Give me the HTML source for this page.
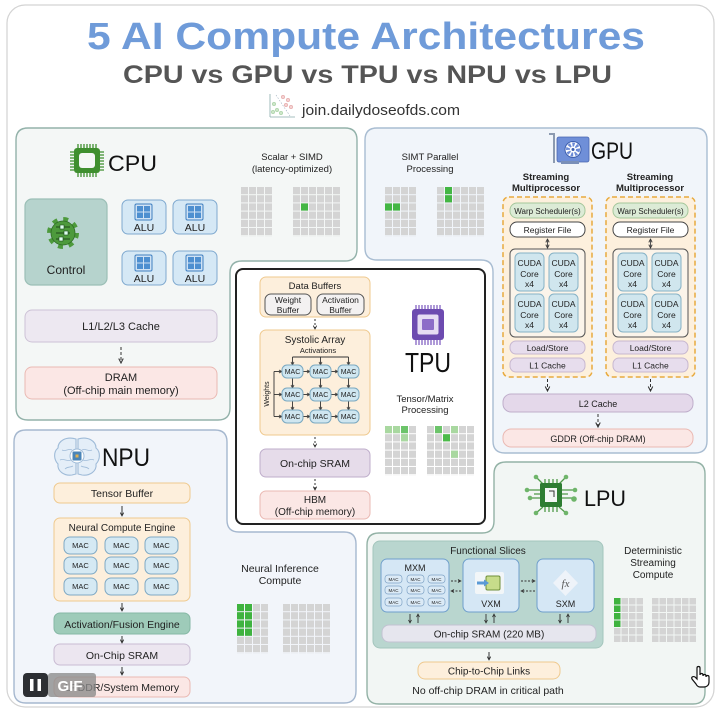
<!DOCTYPE html>
<html><head><meta charset="utf-8"><style>
html,body{margin:0;padding:0;background:#fff;}
svg{display:block;font-family:"Liberation Sans",Arial,sans-serif;}
text{fill:#222;}
</style></head><body>
<svg width="725" height="710" viewBox="0 0 725 710" xmlns="http://www.w3.org/2000/svg">
<defs>
<marker id="ar" viewBox="0 0 8 8" refX="7" refY="4" markerWidth="6" markerHeight="6" orient="auto-start-reverse"><path d="M1,1 L7,4 L1,7" fill="none" stroke="#333" stroke-width="1.4"/></marker>
<marker id="as" viewBox="0 0 8 8" refX="7" refY="4" markerWidth="4.5" markerHeight="4.5" orient="auto-start-reverse"><path d="M1,1 L7,4 L1,7" fill="none" stroke="#333" stroke-width="1.5"/></marker>
<pattern id="g" width="8" height="8.2" patternUnits="userSpaceOnUse"><rect width="7" height="7.2" fill="#d4d4d4"/></pattern>
<pattern id="g2" width="7.5" height="7.5" patternUnits="userSpaceOnUse"><rect width="6.5" height="6.5" fill="#d4d4d4"/></pattern>
</defs>

<!-- outer frame -->
<rect x="7" y="5" width="707" height="702" rx="18" fill="#fff" stroke="#d3d3d3" stroke-width="1.2"/>

<!-- header -->
<text x="366" y="49" font-size="38" font-weight="bold" text-anchor="middle" textLength="558" lengthAdjust="spacingAndGlyphs" style="fill:#6f9bd9">5 AI Compute Architectures</text>
<text x="367.5" y="83" font-size="25" font-weight="bold" text-anchor="middle" textLength="489" lengthAdjust="spacingAndGlyphs" style="fill:#555">CPU vs GPU vs TPU vs NPU vs LPU</text>
<g>
<line x1="270" y1="94" x2="270" y2="117" stroke="#8aa" stroke-width="0.8"/>
<line x1="270" y1="117" x2="295" y2="117" stroke="#8aa" stroke-width="0.8"/>
<line x1="276" y1="95" x2="290" y2="116" stroke="#9ab" stroke-width="0.6" stroke-dasharray="1.5 1.5"/>
<circle cx="274" cy="104" r="1.8" fill="#cde5c8" stroke="#9c9" stroke-width="0.5"/>
<circle cx="277" cy="110" r="1.8" fill="#cde5c8" stroke="#9c9" stroke-width="0.5"/>
<circle cx="281" cy="113" r="1.8" fill="#cde5c8" stroke="#9c9" stroke-width="0.5"/>
<circle cx="273" cy="112" r="1.8" fill="#cde5c8" stroke="#9c9" stroke-width="0.5"/>
<circle cx="283" cy="97" r="1.8" fill="#f5d0d0" stroke="#d99" stroke-width="0.5"/>
<circle cx="288" cy="100" r="1.8" fill="#f5d0d0" stroke="#d99" stroke-width="0.5"/>
<circle cx="286" cy="105" r="1.8" fill="#f5d0d0" stroke="#d99" stroke-width="0.5"/>
<circle cx="291" cy="107" r="1.8" fill="#f5d0d0" stroke="#d99" stroke-width="0.5"/>
</g>
<text x="302" y="115" font-size="14.5" textLength="158" lengthAdjust="spacingAndGlyphs" style="fill:#333">join.dailydoseofds.com</text>

<!-- panels -->
<path d="M28,128 H345 Q357,128 357,140 V249 Q357,261 345,261 H242 Q230,261 230,273 V408 Q230,420 218,420 H28 Q16,420 16,408 V140 Q16,128 28,128 Z" fill="#f4f7f6" stroke="#93b2aa" stroke-width="1.4"/>
<path d="M377,128 H695 Q707,128 707,140 V441 Q707,453 695,453 H505 Q493,453 493,441 V272 Q493,260 481,260 H377 Q365,260 365,248 V140 Q365,128 377,128 Z" fill="#f1f5fa" stroke="#a9bdd2" stroke-width="1.4"/>
<path d="M26,430 H215 Q227,430 227,442 V520 Q227,532 239,532 H344 Q356,532 356,544 V691 Q356,703 344,703 H26 Q14,703 14,691 V442 Q14,430 26,430 Z" fill="#f2f5fa" stroke="#a6b8cf" stroke-width="1.4"/>
<path d="M506,462 H693 Q705,462 705,474 V692 Q705,704 693,704 H379 Q367,704 367,692 V545 Q367,533 379,533 H482 Q494,533 494,521 V474 Q494,462 506,462 Z" fill="#f2f6f4" stroke="#93b2a6" stroke-width="1.4"/>
<rect x="236" y="269" width="249" height="255" rx="7" fill="#fff" stroke="#222" stroke-width="2"/>

<!-- ================= CPU ================= -->
<g stroke="#3f8f2f" stroke-width="1.3">
<path d="M78,144 V148 M81,144 V148 M84,144 V148 M87,144 V148 M90,144 V148 M93,144 V148 M96,144 V148"/>
<path d="M78,173 V177 M81,173 V177 M84,173 V177 M87,173 V177 M90,173 V177 M93,173 V177 M96,173 V177"/>
<path d="M70,152 H74 M70,155 H74 M70,158 H74 M70,161 H74 M70,164 H74 M70,167 H74 M70,170 H74"/>
<path d="M100,152 H104 M100,155 H104 M100,158 H104 M100,161 H104 M100,164 H104 M100,167 H104 M100,170 H104"/>
</g>
<rect x="74" y="148" width="26" height="25" rx="3" fill="#3f8f2f"/>
<rect x="79" y="153" width="16" height="15" rx="3" fill="#f4f7f6"/>
<text x="108" y="171" font-size="22" textLength="49" lengthAdjust="spacingAndGlyphs" style="fill:#111">CPU</text>

<text x="292" y="160" font-size="9.5" text-anchor="middle">Scalar + SIMD</text>
<text x="292" y="172" font-size="9.5" text-anchor="middle">(latency-optimized)</text>
<g transform="translate(241,187)"><rect width="32" height="49.2" fill="url(#g)"/></g>
<g transform="translate(293,187)"><rect width="48" height="49.2" fill="url(#g)"/><rect x="8" y="16.4" width="7" height="7.2" fill="#43b643"/></g>

<rect x="25" y="199" width="82" height="86" rx="7" fill="#b6d3cd" stroke="#9bbfb6" stroke-width="1.2"/>
<circle cx="63" cy="233" r="13.5" fill="none" stroke="#4d9a3c" stroke-width="5" stroke-dasharray="4.8 5.8"/>
<circle cx="63" cy="233" r="12" fill="#4d9a3c" stroke="#2e6b25" stroke-width="0.8"/>
<g stroke="#1f4a1a" stroke-width="1"><line x1="56" y1="227" x2="70" y2="227"/><line x1="56" y1="233" x2="70" y2="233"/><line x1="56" y1="239" x2="70" y2="239"/></g>
<rect x="60" y="225" width="4" height="4" fill="#dfe" stroke="#1f4a1a" stroke-width="0.6"/>
<rect x="64" y="231" width="4" height="4" fill="#dfe" stroke="#1f4a1a" stroke-width="0.6"/>
<rect x="59" y="237" width="4" height="4" fill="#dfe" stroke="#1f4a1a" stroke-width="0.6"/>
<text x="66" y="274" font-size="12" text-anchor="middle">Control</text>

<g id="alu">
<rect x="122" y="200" width="44" height="34" rx="6" fill="#d5e8f5" stroke="#7fa9cf" stroke-width="1"/>
<rect x="135" y="204" width="17" height="16" rx="1.5" fill="#cfe2f4" stroke="#3f7fc0" stroke-width="1"/>
<rect x="137" y="206" width="6" height="5.5" fill="#4d8fd0"/><rect x="144" y="206" width="6" height="5.5" fill="#4d8fd0"/>
<rect x="137" y="212.5" width="6" height="5.5" fill="#4d8fd0"/><rect x="144" y="212.5" width="6" height="5.5" fill="#4d8fd0"/>
<text x="144" y="231" font-size="10.5" text-anchor="middle">ALU</text>
</g>
<use href="#alu" x="51" y="0"/>
<use href="#alu" x="0" y="51"/>
<use href="#alu" x="51" y="51"/>

<rect x="25" y="310" width="192" height="32" rx="7" fill="#ede8f1" stroke="#cdc2d6" stroke-width="1"/>
<text x="121" y="330" font-size="11" text-anchor="middle">L1/L2/L3 Cache</text>
<line x1="121" y1="347" x2="121" y2="363" stroke="#333" stroke-width="1" stroke-dasharray="3 2" marker-end="url(#ar)"/>
<rect x="25" y="367" width="192" height="32" rx="7" fill="#fbe7e5" stroke="#eab9b3" stroke-width="1"/>
<text x="121" y="381" font-size="11" text-anchor="middle">DRAM</text>
<text x="121" y="394" font-size="11" text-anchor="middle">(Off-chip main memory)</text>

<!-- ================= GPU ================= -->
<text x="430" y="160" font-size="9.5" text-anchor="middle">SIMT Parallel</text>
<text x="430" y="172" font-size="9.5" text-anchor="middle">Processing</text>
<g transform="translate(385,187)"><rect width="32" height="49.2" fill="url(#g)"/><rect x="0" y="16.4" width="7" height="7.2" fill="#43b643"/><rect x="8" y="16.4" width="7" height="7.2" fill="#43b643"/></g>
<g transform="translate(437,187)"><rect width="48" height="49.2" fill="url(#g)"/><rect x="8" y="0" width="7" height="7.2" fill="#43b643"/><rect x="8" y="8.2" width="7" height="7.2" fill="#43b643"/></g>

<path d="M549,134 H554 V163" fill="none" stroke="#8c9ab0" stroke-width="2"/>
<rect x="557" y="137" width="32" height="25" rx="2" fill="#6f8fd8" stroke="#4a66b0" stroke-width="0.8"/>
<rect x="561" y="161" width="18" height="3" fill="#7a8fb8"/>
<circle cx="573" cy="149.5" r="8" fill="#fff" stroke="#3d5fae" stroke-width="1"/>
<circle cx="573" cy="149.5" r="5" fill="none" stroke="#6b8ad6" stroke-width="4" stroke-dasharray="2.2 1.6"/>
<circle cx="573" cy="149.5" r="1.5" fill="#3d5fae"/>
<text x="591" y="159" font-size="24" textLength="42" lengthAdjust="spacingAndGlyphs" style="fill:#111">GPU</text>

<text x="546" y="180" font-size="9.5" text-anchor="middle" font-weight="bold">Streaming</text>
<text x="546" y="191" font-size="9.5" text-anchor="middle" font-weight="bold">Multiprocessor</text>
<text x="650" y="180" font-size="9.5" text-anchor="middle" font-weight="bold">Streaming</text>
<text x="650" y="191" font-size="9.5" text-anchor="middle" font-weight="bold">Multiprocessor</text>

<g id="sm">
<rect x="503" y="197" width="89" height="180" rx="6" fill="#fdf0dd" stroke="#e8aa3e" stroke-width="1.5" stroke-dasharray="5 3"/>
<rect x="510" y="203" width="75" height="15" rx="7" fill="#dcebd6" stroke="#a5c79b" stroke-width="1"/>
<text x="547.5" y="214" font-size="8" text-anchor="middle">Warp Scheduler(s)</text>
<rect x="510" y="222" width="75" height="15" rx="7" fill="#fff" stroke="#444" stroke-width="1"/>
<text x="547.5" y="233" font-size="8.5" text-anchor="middle">Register File</text>
<line x1="547.5" y1="239" x2="547.5" y2="248" stroke="#555" stroke-width="1" marker-end="url(#as)" marker-start="url(#as)"/>
<rect x="510" y="249" width="75" height="88" rx="5" fill="#fbf4ea" stroke="#555" stroke-width="1"/>
<rect x="515" y="253" width="29" height="38" rx="5" fill="#d0e6ee" stroke="#86b2c6" stroke-width="1"/>
<rect x="549" y="253" width="29" height="38" rx="5" fill="#d0e6ee" stroke="#86b2c6" stroke-width="1"/>
<rect x="515" y="294" width="29" height="38" rx="5" fill="#d0e6ee" stroke="#86b2c6" stroke-width="1"/>
<rect x="549" y="294" width="29" height="38" rx="5" fill="#d0e6ee" stroke="#86b2c6" stroke-width="1"/>
<g font-size="8.5" text-anchor="middle">
<text x="529.5" y="266">CUDA</text><text x="529.5" y="277">Core</text><text x="529.5" y="287">x4</text>
<text x="563.5" y="266">CUDA</text><text x="563.5" y="277">Core</text><text x="563.5" y="287">x4</text>
<text x="529.5" y="307">CUDA</text><text x="529.5" y="318">Core</text><text x="529.5" y="328">x4</text>
<text x="563.5" y="307">CUDA</text><text x="563.5" y="318">Core</text><text x="563.5" y="328">x4</text>
</g>
<rect x="510" y="341" width="75" height="13" rx="6" fill="#e7dded" stroke="#c7b7d0" stroke-width="1"/>
<text x="547.5" y="351" font-size="8.5" text-anchor="middle">Load/Store</text>
<rect x="510" y="358" width="75" height="14" rx="6" fill="#e7dded" stroke="#c7b7d0" stroke-width="1"/>
<text x="547.5" y="368.5" font-size="8.5" text-anchor="middle">L1 Cache</text>
<line x1="547.5" y1="379" x2="547.5" y2="391" stroke="#333" stroke-width="1" stroke-dasharray="3 2" marker-end="url(#ar)"/>
</g>
<use href="#sm" x="103" y="0"/>
<rect x="503" y="394" width="190" height="18" rx="8" fill="#e4d8ea" stroke="#bfaecb" stroke-width="1"/>
<text x="598" y="407" font-size="9" text-anchor="middle">L2 Cache</text>
<line x1="598" y1="414" x2="598" y2="427" stroke="#333" stroke-width="1" stroke-dasharray="3 2" marker-end="url(#ar)"/>
<rect x="503" y="429" width="190" height="18" rx="8" fill="#fbe7e5" stroke="#eab9b3" stroke-width="1"/>
<text x="598" y="442" font-size="9" text-anchor="middle">GDDR (Off-chip DRAM)</text>

<!-- ================= TPU ================= -->
<rect x="260" y="277" width="110" height="40" rx="6" fill="#fdefdc" stroke="#efc98e" stroke-width="1"/>
<text x="315" y="289" font-size="9.5" text-anchor="middle">Data Buffers</text>
<rect x="265" y="294" width="46" height="21" rx="6" fill="#f3f1f1" stroke="#555" stroke-width="1"/>
<rect x="317" y="294" width="47" height="21" rx="6" fill="#f3f1f1" stroke="#555" stroke-width="1"/>
<g font-size="8.5" text-anchor="middle"><text x="288" y="303">Weight</text><text x="288" y="313">Buffer</text><text x="340.5" y="303">Activation</text><text x="340.5" y="313">Buffer</text></g>
<line x1="315" y1="319" x2="315" y2="329" stroke="#333" stroke-width="1" stroke-dasharray="2 2" marker-end="url(#as)"/>
<rect x="260" y="330" width="110" height="105" rx="6" fill="#fdefdc" stroke="#efc98e" stroke-width="1"/>
<text x="315" y="343" font-size="10" text-anchor="middle">Systolic Array</text>
<text x="318" y="353" font-size="7.5" text-anchor="middle">Activations</text>
<g stroke="#333" stroke-width="0.9" fill="none">
<path d="M292.5,357 H348.5"/>
<line x1="292.5" y1="357" x2="292.5" y2="365" marker-end="url(#as)"/>
<line x1="320.5" y1="357" x2="320.5" y2="365" marker-end="url(#as)"/>
<line x1="348.5" y1="357" x2="348.5" y2="365" marker-end="url(#as)"/>
<path d="M274,371.5 V416.5"/>
<line x1="274" y1="371.5" x2="282" y2="371.5" marker-end="url(#as)"/>
<line x1="274" y1="394.5" x2="282" y2="394.5" marker-end="url(#as)"/>
<line x1="274" y1="416.5" x2="282" y2="416.5" marker-end="url(#as)"/>
<line x1="303" y1="371.5" x2="310" y2="371.5" marker-end="url(#as)"/><line x1="331" y1="371.5" x2="338" y2="371.5" marker-end="url(#as)"/>
<line x1="303" y1="394.5" x2="310" y2="394.5" marker-end="url(#as)"/><line x1="331" y1="394.5" x2="338" y2="394.5" marker-end="url(#as)"/>
<line x1="303" y1="416.5" x2="310" y2="416.5" marker-end="url(#as)"/><line x1="331" y1="416.5" x2="338" y2="416.5" marker-end="url(#as)"/>
<line x1="292.5" y1="378" x2="292.5" y2="388" marker-end="url(#as)"/><line x1="320.5" y1="378" x2="320.5" y2="388" marker-end="url(#as)"/><line x1="348.5" y1="378" x2="348.5" y2="388" marker-end="url(#as)"/>
<line x1="292.5" y1="401" x2="292.5" y2="410" marker-end="url(#as)"/><line x1="320.5" y1="401" x2="320.5" y2="410" marker-end="url(#as)"/><line x1="348.5" y1="401" x2="348.5" y2="410" marker-end="url(#as)"/>
</g>
<g fill="#cfe6f0" stroke="#7aa8c0" stroke-width="1">
<rect x="282" y="365" width="21" height="13" rx="5"/><rect x="310" y="365" width="21" height="13" rx="5"/><rect x="338" y="365" width="21" height="13" rx="5"/>
<rect x="282" y="388" width="21" height="13" rx="5"/><rect x="310" y="388" width="21" height="13" rx="5"/><rect x="338" y="388" width="21" height="13" rx="5"/>
<rect x="282" y="410" width="21" height="13" rx="5"/><rect x="310" y="410" width="21" height="13" rx="5"/><rect x="338" y="410" width="21" height="13" rx="5"/>
</g>
<g font-size="7" text-anchor="middle">
<text x="292.5" y="374">MAC</text><text x="320.5" y="374">MAC</text><text x="348.5" y="374">MAC</text>
<text x="292.5" y="397">MAC</text><text x="320.5" y="397">MAC</text><text x="348.5" y="397">MAC</text>
<text x="292.5" y="419">MAC</text><text x="320.5" y="419">MAC</text><text x="348.5" y="419">MAC</text>
</g>
<text x="0" y="0" font-size="7" text-anchor="middle" transform="translate(269,394) rotate(-90)">Weights</text>
<line x1="315" y1="437" x2="315" y2="447" stroke="#333" stroke-width="1" stroke-dasharray="2 2" marker-end="url(#as)"/>
<rect x="260" y="449" width="110" height="28" rx="6" fill="#e6dcea" stroke="#bfaecb" stroke-width="1"/>
<text x="315" y="467" font-size="10.5" text-anchor="middle">On-chip SRAM</text>
<line x1="315" y1="479" x2="315" y2="490" stroke="#333" stroke-width="1" stroke-dasharray="2 2" marker-end="url(#as)"/>
<rect x="260" y="491" width="110" height="28" rx="6" fill="#fbe7e5" stroke="#eab9b3" stroke-width="1"/>
<text x="315" y="503" font-size="10" text-anchor="middle">HBM</text>
<text x="315" y="515" font-size="10" text-anchor="middle">(Off-chip memory)</text>

<g stroke="#7a58bf" stroke-width="1.2">
<path d="M416,305 V309 M419,305 V309 M422,305 V309 M425,305 V309 M428,305 V309 M431,305 V309 M434,305 V309 M437,305 V309 M440,305 V309"/>
<path d="M416,340 V345 M419,340 V345 M422,340 V345 M425,340 V345 M428,340 V345 M431,340 V345 M434,340 V345 M437,340 V345 M440,340 V345"/>
</g>
<rect x="412" y="309" width="32" height="31" rx="3" fill="#6d4bb0"/>
<rect x="417.5" y="314.5" width="21" height="20" rx="2" fill="#e6dcf3"/>
<rect x="422" y="319" width="12" height="11" rx="1" fill="#8d6cc8"/>
<text x="428" y="372" font-size="28" text-anchor="middle" textLength="46" lengthAdjust="spacingAndGlyphs" style="fill:#111">TPU</text>
<text x="425" y="402" font-size="9.5" text-anchor="middle">Tensor/Matrix</text>
<text x="425" y="413" font-size="9.5" text-anchor="middle">Processing</text>
<g transform="translate(385,426)"><rect width="32" height="49.2" fill="url(#g)"/><rect x="0" y="0" width="7" height="7.2" fill="#a9d8a0"/><rect x="8" y="0" width="7" height="7.2" fill="#a9d8a0"/><rect x="16" y="0" width="7" height="7.2" fill="#6cc46a"/><rect x="16" y="8.2" width="7" height="7.2" fill="#a9d8a0"/></g>
<g transform="translate(427,426)"><rect width="48" height="49.2" fill="url(#g)"/><rect x="8" y="0" width="7" height="7.2" fill="#6cc46a"/><rect x="24" y="0" width="7" height="7.2" fill="#a9d8a0"/><rect x="16" y="8.2" width="7" height="7.2" fill="#4cbb4a"/><rect x="24" y="24.6" width="7" height="7.2" fill="#a9d8a0"/></g>

<!-- ================= NPU ================= -->
<g fill="#e4eef8" stroke="#9fbbd8" stroke-width="1.1">
<path d="M76,439 C66,436 58,441 58,448 C53,452 54,460 58,464 C57,471 64,476 72,475 L76,474 Z"/>
<path d="M78,439 C88,436 96,441 96,448 C101,452 100,460 96,464 C97,471 90,476 82,475 L78,474 Z"/>
</g>
<g fill="none" stroke="#9fbbd8" stroke-width="0.8">
<path d="M62,450 C66,452 68,448 72,450 M60,460 C64,458 67,462 71,460 M65,469 C68,466 70,468 73,466 M92,450 C88,452 86,448 82,450 M94,460 C90,458 87,462 83,460 M89,469 C86,466 84,468 81,466"/>
</g>
<circle cx="77" cy="456" r="7" fill="#fff" stroke="#9fbbd8" stroke-width="1"/>
<rect x="72.5" y="451.5" width="9" height="9" rx="1" fill="#4a85b8"/>
<rect x="75.5" y="454.5" width="3" height="3" fill="#e0b050"/>
<text x="102" y="466" font-size="25" textLength="48" lengthAdjust="spacingAndGlyphs" style="fill:#111">NPU</text>

<rect x="54" y="483" width="136" height="20" rx="6" fill="#fdefdc" stroke="#efc98e" stroke-width="1"/>
<text x="122" y="497" font-size="10.5" text-anchor="middle">Tensor Buffer</text>
<line x1="122" y1="506" x2="122" y2="516" stroke="#333" stroke-width="1" marker-end="url(#as)"/>
<rect x="54" y="518" width="136" height="83" rx="6" fill="#fdefdc" stroke="#efc98e" stroke-width="1"/>
<text x="122" y="531" font-size="10" text-anchor="middle">Neural Compute Engine</text>
<g fill="#d5e9f3" stroke="#7fa9c4" stroke-width="1">
<rect x="64" y="537" width="33" height="17" rx="6"/><rect x="105" y="537" width="33" height="17" rx="6"/><rect x="145" y="537" width="33" height="17" rx="6"/>
<rect x="64" y="557" width="33" height="17" rx="6"/><rect x="105" y="557" width="33" height="17" rx="6"/><rect x="145" y="557" width="33" height="17" rx="6"/>
<rect x="64" y="578" width="33" height="17" rx="6"/><rect x="105" y="578" width="33" height="17" rx="6"/><rect x="145" y="578" width="33" height="17" rx="6"/>
</g>
<g font-size="7.5" text-anchor="middle">
<text x="80.5" y="548">MAC</text><text x="121.5" y="548">MAC</text><text x="161.5" y="548">MAC</text>
<text x="80.5" y="568">MAC</text><text x="121.5" y="568">MAC</text><text x="161.5" y="568">MAC</text>
<text x="80.5" y="589">MAC</text><text x="121.5" y="589">MAC</text><text x="161.5" y="589">MAC</text>
</g>
<line x1="122" y1="603" x2="122" y2="611" stroke="#333" stroke-width="1" marker-end="url(#as)"/>
<rect x="54" y="613" width="136" height="21" rx="6" fill="#9ecbb9" stroke="#86b8a5" stroke-width="1"/>
<text x="122" y="628" font-size="10.5" text-anchor="middle">Activation/Fusion Engine</text>
<line x1="122" y1="636" x2="122" y2="643" stroke="#333" stroke-width="1" marker-end="url(#as)"/>
<rect x="54" y="644" width="136" height="21" rx="6" fill="#ece6f0" stroke="#c9bcd3" stroke-width="1"/>
<text x="122" y="659" font-size="10.5" text-anchor="middle">On-Chip SRAM</text>
<line x1="122" y1="667" x2="122" y2="675" stroke="#333" stroke-width="1" marker-end="url(#as)"/>
<rect x="54" y="677" width="136" height="20" rx="6" fill="#fbe7e5" stroke="#eab9b3" stroke-width="1"/>
<text x="122" y="691" font-size="10.5" text-anchor="middle">LPDDR/System Memory</text>

<text x="280" y="572" font-size="10.5" text-anchor="middle">Neural Inference</text>
<text x="280" y="584" font-size="10.5" text-anchor="middle">Compute</text>
<g transform="translate(237,604)"><rect width="32" height="49.2" fill="url(#g)"/>
<rect x="0" y="0" width="7" height="7.2" fill="#3fb33f"/><rect x="8" y="0" width="7" height="7.2" fill="#3fb33f"/>
<rect x="0" y="8.2" width="7" height="7.2" fill="#3fb33f"/><rect x="8" y="8.2" width="7" height="7.2" fill="#3fb33f"/>
<rect x="0" y="16.4" width="7" height="7.2" fill="#3fb33f"/><rect x="8" y="16.4" width="7" height="7.2" fill="#3fb33f"/>
<rect x="0" y="24.6" width="7" height="7.2" fill="#3fb33f"/><rect x="8" y="24.6" width="7" height="7.2" fill="#3fb33f"/></g>
<g transform="translate(283,604)"><rect width="48" height="49.2" fill="url(#g)"/></g>

<!-- GIF overlay -->
<rect x="23" y="673" width="25" height="24" rx="4" fill="#2d2f33"/>
<rect x="30" y="679" width="3.5" height="12" fill="#fff"/><rect x="37.5" y="679" width="3.5" height="12" fill="#fff"/>
<rect x="48" y="673" width="48" height="24" rx="3" fill="#8a8a8a" fill-opacity="0.78"/>
<text x="70" y="691" font-size="15" font-weight="bold" text-anchor="middle" style="fill:#fff">GIF</text>

<!-- ================= LPU ================= -->
<g stroke="#4f9a48" stroke-width="1.3" fill="none">
<path d="M545,479 V484 M549,479 V484 M553,479 V484 M557,479 V484"/>
<path d="M545,507 V512 M549,507 V512 M553,507 V512 M557,507 V512"/>
<path d="M540,490 H527 M540,498 H530 M540,494 H534"/>
<path d="M562,490 H575 M562,498 H572 M562,494 H568"/>
<path d="M543,484 L536,477 M559,484 L566,477 M543,507 L536,513 M559,507 L566,513"/>
</g>
<g fill="#6fb56a"><circle cx="536" cy="477" r="2.3"/><circle cx="566" cy="477" r="2.3"/><circle cx="536" cy="513" r="2.3"/><circle cx="566" cy="513" r="2.3"/><circle cx="527" cy="490" r="2.3"/><circle cx="575" cy="490" r="2.3"/><circle cx="530" cy="498" r="2.3"/><circle cx="574" cy="499" r="2.8"/></g>
<rect x="540" y="483" width="22" height="24" rx="1.5" fill="#2e7d32"/>
<rect x="545" y="488" width="12" height="14" fill="#f4f7f5"/>
<path d="M549,491 H554 V497" fill="none" stroke="#333" stroke-width="1"/>
<text x="584" y="506" font-size="22" textLength="42" lengthAdjust="spacingAndGlyphs" style="fill:#111">LPU</text>

<rect x="373" y="541" width="230" height="107" rx="7" fill="#b9d6cf" stroke="#a3c5bc" stroke-width="1"/>
<text x="488" y="554" font-size="10" text-anchor="middle">Functional Slices</text>
<rect x="381" y="559" width="68" height="53" rx="6" fill="#d5e7f5" stroke="#6f9fcc" stroke-width="1"/>
<text x="415" y="571" font-size="9" text-anchor="middle">MXM</text>
<g fill="#dbeaf6" stroke="#7fa3c6" stroke-width="0.7">
<rect x="385" y="575" width="17" height="8" rx="3"/><rect x="407" y="575" width="17" height="8" rx="3"/><rect x="428" y="575" width="17" height="8" rx="3"/>
<rect x="385" y="586" width="17" height="8" rx="3"/><rect x="407" y="586" width="17" height="8" rx="3"/><rect x="428" y="586" width="17" height="8" rx="3"/>
<rect x="385" y="598" width="17" height="8" rx="3"/><rect x="407" y="598" width="17" height="8" rx="3"/><rect x="428" y="598" width="17" height="8" rx="3"/>
</g>
<g font-size="4.5" text-anchor="middle">
<text x="393.5" y="581">MAC</text><text x="415.5" y="581">MAC</text><text x="436.5" y="581">MAC</text>
<text x="393.5" y="592">MAC</text><text x="415.5" y="592">MAC</text><text x="436.5" y="592">MAC</text>
<text x="393.5" y="604">MAC</text><text x="415.5" y="604">MAC</text><text x="436.5" y="604">MAC</text>
</g>
<rect x="463" y="559" width="56" height="53" rx="6" fill="#d5e7f5" stroke="#6f9fcc" stroke-width="1"/>
<rect x="475" y="572" width="29" height="22" rx="2" fill="#f2f6f8"/>
<rect x="486" y="576" width="14" height="14" rx="1.5" fill="#c7dc8a" stroke="#6f8f3a" stroke-width="1"/>
<path d="M477,583 H485" stroke="#5a9ad6" stroke-width="3"/>
<path d="M484,579.5 L489,583 L484,586.5 Z" fill="#5a9ad6"/>
<text x="491" y="607" font-size="9" text-anchor="middle">VXM</text>
<rect x="537" y="559" width="57" height="53" rx="6" fill="#d5e7f5" stroke="#6f9fcc" stroke-width="1"/>
<path d="M565.5,570 L578,583 L565.5,596 L553,583 Z" fill="#eef3f9"/>
<text x="565.5" y="587" font-size="11" font-style="italic" text-anchor="middle" font-family="Liberation Serif, serif" style="fill:#555">fx</text>
<text x="565.5" y="607" font-size="9" text-anchor="middle">SXM</text>
<g stroke="#333" stroke-width="0.9" stroke-dasharray="2 1.5" fill="none">
<line x1="451" y1="581" x2="461" y2="581" marker-end="url(#as)"/>
<line x1="461" y1="591" x2="451" y2="591" marker-end="url(#as)"/>
<line x1="521" y1="581" x2="535" y2="581" marker-end="url(#as)"/>
<line x1="535" y1="591" x2="521" y2="591" marker-end="url(#as)"/>
</g>
<g stroke="#333" stroke-width="0.9" fill="none">
<line x1="410" y1="614" x2="410" y2="623" marker-end="url(#as)"/><line x1="418" y1="623" x2="418" y2="614" marker-end="url(#as)"/>
<line x1="486" y1="614" x2="486" y2="623" marker-end="url(#as)"/><line x1="494" y1="623" x2="494" y2="614" marker-end="url(#as)"/>
<line x1="560" y1="614" x2="560" y2="623" marker-end="url(#as)"/><line x1="568" y1="623" x2="568" y2="614" marker-end="url(#as)"/>
</g>
<rect x="382" y="625" width="214" height="17" rx="7" fill="#e6e6ee" stroke="#c2c2d2" stroke-width="1"/>
<text x="489" y="637.5" font-size="10" text-anchor="middle">On-chip SRAM (220 MB)</text>
<line x1="489" y1="652" x2="489" y2="660" stroke="#333" stroke-width="1" marker-end="url(#as)"/>
<rect x="418" y="662" width="142" height="17" rx="7" fill="#fdefdc" stroke="#efc98e" stroke-width="1"/>
<text x="489" y="674.5" font-size="10" text-anchor="middle">Chip-to-Chip Links</text>
<text x="488" y="694" font-size="10.5" text-anchor="middle">No off-chip DRAM in critical path</text>

<text x="653" y="554" font-size="10" text-anchor="middle">Deterministic</text>
<text x="653" y="566" font-size="10" text-anchor="middle">Streaming</text>
<text x="653" y="578" font-size="10" text-anchor="middle">Compute</text>
<g transform="translate(614,598)"><rect width="30" height="45" fill="url(#g2)"/>
<rect x="0" y="0" width="6.5" height="6.5" fill="#3fb33f"/><rect x="0" y="7.5" width="6.5" height="6.5" fill="#3fb33f"/><rect x="0" y="15" width="6.5" height="6.5" fill="#3fb33f"/><rect x="0" y="22.5" width="6.5" height="6.5" fill="#3fb33f"/></g>
<g transform="translate(652,598)"><rect width="45" height="45" fill="url(#g2)"/></g>

<!-- cursor -->
<path d="M697,668 C697,666 700,666 700,668 V675 C700,673 703,673 703,675 V676 C703,674 706,674 706,676 V677 C706,675 709,675 709,677 V682 C709,685 707,687 704,687 H700 C698,687 697,686 696,684 L692,679 C691,677 693,676 695,677 L697,679 Z" fill="#fff" stroke="#111" stroke-width="1.2"/>
</svg>
</body></html>
